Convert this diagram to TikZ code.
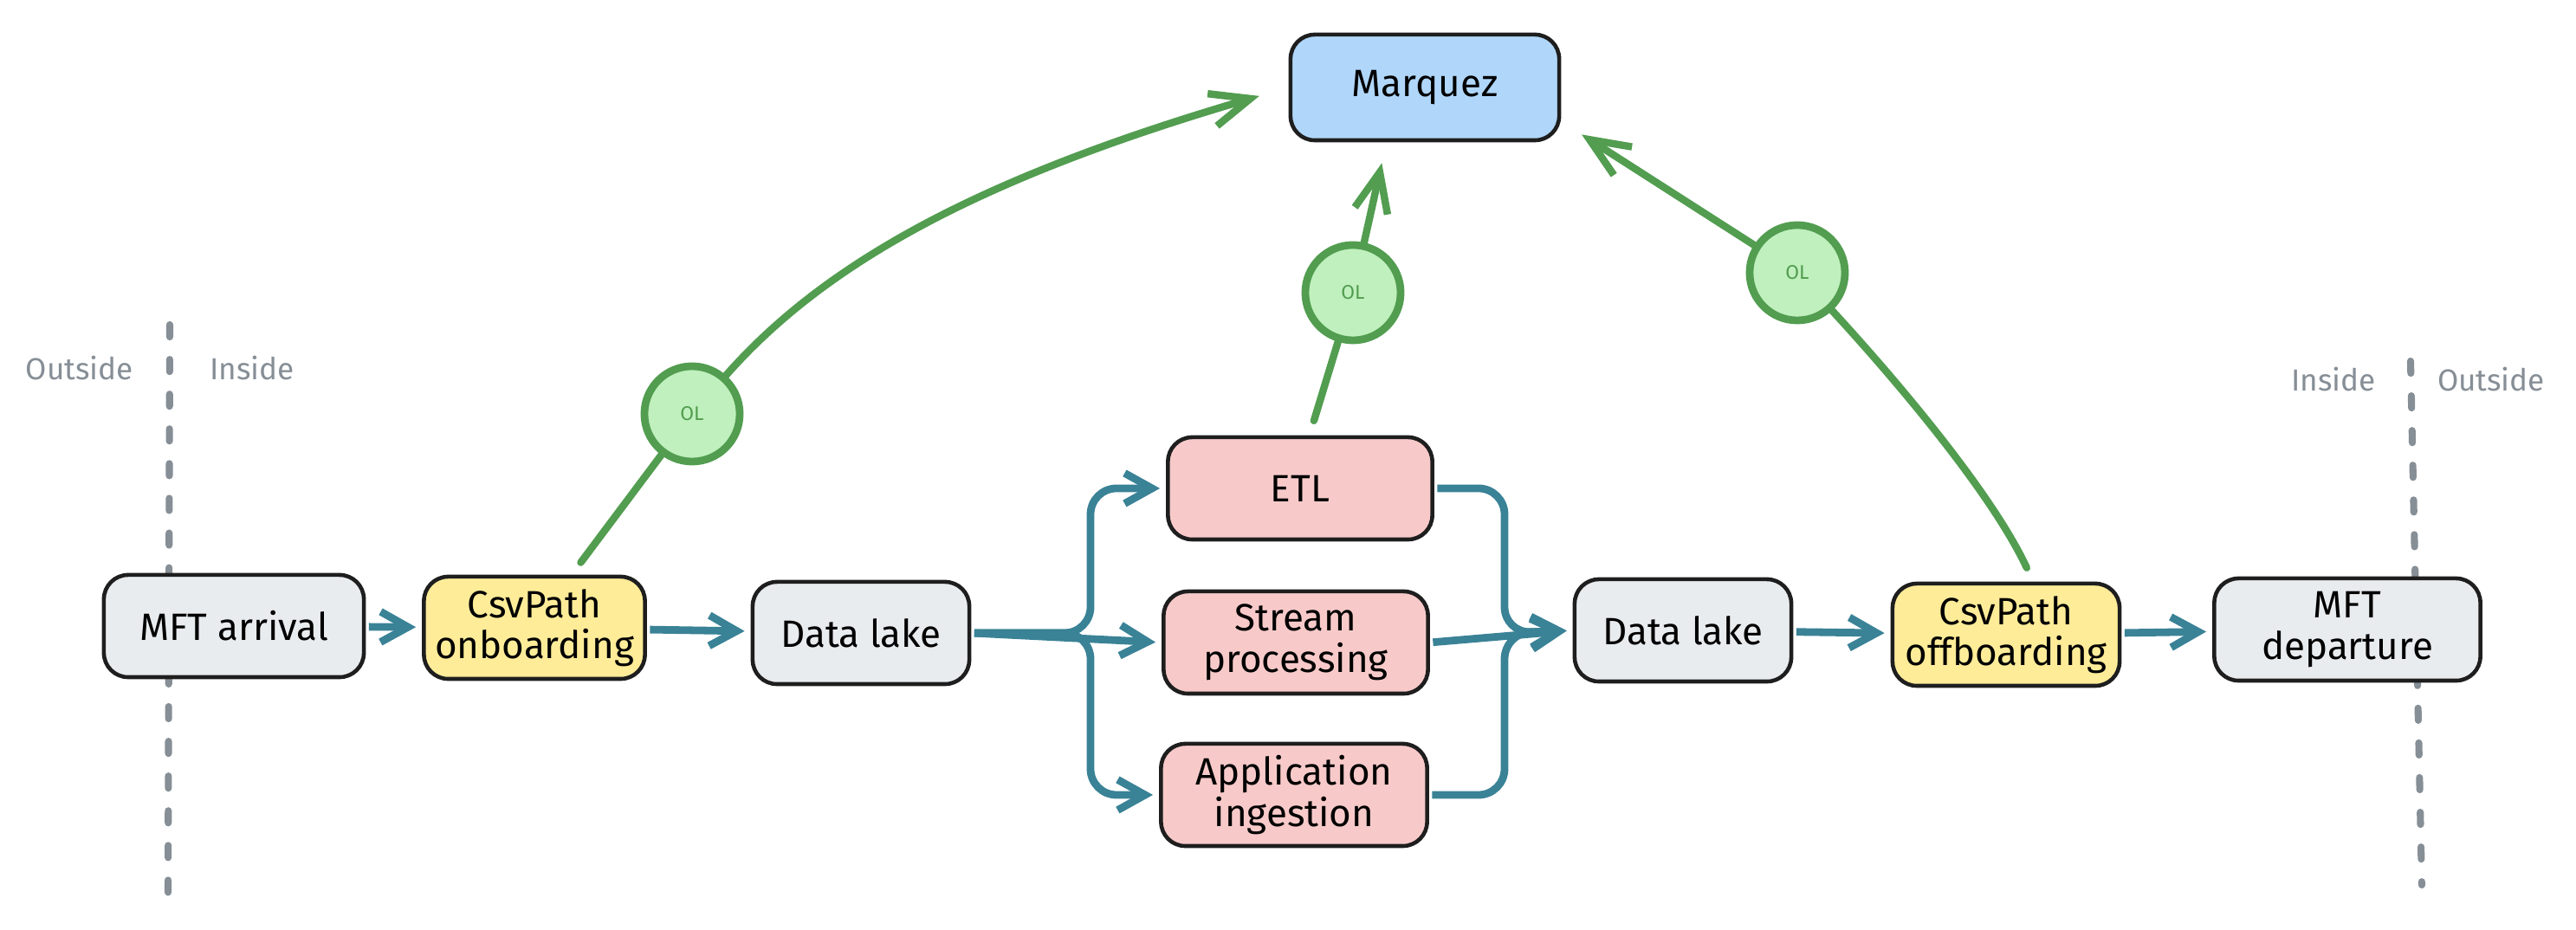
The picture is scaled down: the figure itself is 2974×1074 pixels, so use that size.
\documentclass[tikz,border=0pt]{standalone}
\usepackage{fontspec}
\setmainfont{Fira Sans}
\usetikzlibrary{arrows.meta}

\definecolor{ink}{RGB}{30,30,30}
\definecolor{grayfill}{RGB}{233,236,239}
\definecolor{yellowfill}{RGB}{255,236,153}
\definecolor{redfill}{RGB}{247,202,201}
\definecolor{bluefill}{RGB}{176,215,250}
\definecolor{olfill}{RGB}{192,240,190}
\definecolor{olgreen}{RGB}{82,157,80}
\definecolor{flowteal}{RGB}{58,130,150}
\definecolor{bordergray}{RGB}{134,142,150}

\tikzset{
  box/.style={draw=ink, line width=1.3pt, rounded corners=0.28cm,
    minimum height=1.18cm, align=center, inner sep=0pt,
    font=\fontsize{12.5}{13.5}\selectfont},
  ol/.style={circle, draw=olgreen, fill=olfill, line width=2.5pt,
    minimum size=1.1cm, inner sep=0pt, text=olgreen,
    font=\fontsize{6.5}{7}\selectfont},
  flow/.style={draw=flowteal, line width=2.5pt, rounded corners=0.3cm,
    shorten >=2pt, shorten <=1pt,
    -{Straight Barb[length=9pt, width=10pt]}},
  lineage/.style={draw=olgreen, line width=2.4pt, line cap=round},
  lineagearrow/.style={lineage, -{Straight Barb[length=13pt, width=11pt]}},
  border/.style={draw=bordergray, line width=2.3pt, line cap=round,
    dash pattern=on 4pt off 7.4pt},
  side/.style={text=bordergray, font=\fontsize{10}{12}\selectfont}
}

\begin{document}
\begin{tikzpicture}[x=0.01cm, y=-0.01cm]
  \useasboundingbox (0, 0) rectangle (2974, 1074);

  % inside / outside borders
  \draw [border] (196, 375) -- (194, 1035);
  \draw [border] (2783, 417) -- (2796, 1022);
  \node [side] (outleft) at (92, 425) {Outside};
  \node [side] (inleft) at (291, 425) {Inside};
  \node [side] (inright) at (2694, 438) {Inside};
  \node [side] (outright) at (2876, 438) {Outside};

  % main row
  \node [box, fill=grayfill, minimum width=3.0cm] (arrival) at (270, 723) {MFT arrival};
  \node [box, fill=yellowfill, minimum width=2.55cm] (onboard) at (617, 725) {CsvPath\\onboarding};
  \node [box, fill=grayfill, minimum width=2.5cm] (lakein) at (994, 731) {Data lake};

  % processing
  \node [box, fill=redfill, minimum width=3.05cm] (etl) at (1501, 564) {ETL};
  \node [box, fill=redfill, minimum width=3.05cm] (stream) at (1496, 742) {Stream\\processing};
  \node [box, fill=redfill, minimum width=3.07cm] (app) at (1494, 918) {Application\\ingestion};

  \node [box, fill=grayfill, minimum width=2.5cm] (lakeout) at (1943, 728) {Data lake};
  \node [box, fill=yellowfill, minimum width=2.62cm] (offboard) at (2316, 733) {CsvPath\\offboarding};
  \node [box, fill=grayfill, minimum width=3.07cm] (departure) at (2710, 727) {MFT\\departure};

  % lineage server
  \node [box, fill=bluefill, minimum width=3.1cm, minimum height=1.22cm] (marquez) at (1645, 101) {Marquez};

  % OpenLineage events
  \node [ol] (olin) at (799, 478) {OL};
  \node [ol] (olmid) at (1562, 338) {OL};
  \node [ol] (olout) at (2075, 315) {OL};

  % data flow
  \coordinate (split) at (1259, 731);
  \coordinate (merge) at (1737, 731);
  \draw [flow] (arrival) -- (onboard);
  \draw [flow] (onboard) -- (lakein);
  \draw [flow] (lakein.east) -- (split) |- (etl.west);
  \draw [flow] (lakein.east) -- (stream.west);
  \draw [flow] (lakein.east) -- (split) |- (app.west);
  \draw [flow] (etl.east) -| (merge) -- (lakeout.west);
  \draw [flow] (stream.east) -- (lakeout.west);
  \draw [flow] (app.east) -| (merge) -- (lakeout.west);
  \draw [flow] (lakeout) -- (offboard);
  \draw [flow] (offboard) -- (departure);

  % lineage
  \draw [lineage, shorten <=5pt] (onboard.55) -- (olin);
  \draw [lineagearrow, shorten >=10pt] (olin) .. controls (960, 295) and (1150, 200) .. (marquez.west);
  \draw [lineage, shorten <=5pt] (etl.80) -- (olmid);
  \draw [lineagearrow, shorten >=7pt] (olmid) -- (marquez.235);
  \draw [lineage, shorten <=5pt] (offboard.63) .. controls (2300, 570) and (2190, 440) .. (olout);
  \draw [lineagearrow, shorten >=8pt] (olout) -- (marquez.346);
\end{tikzpicture}
\end{document}
